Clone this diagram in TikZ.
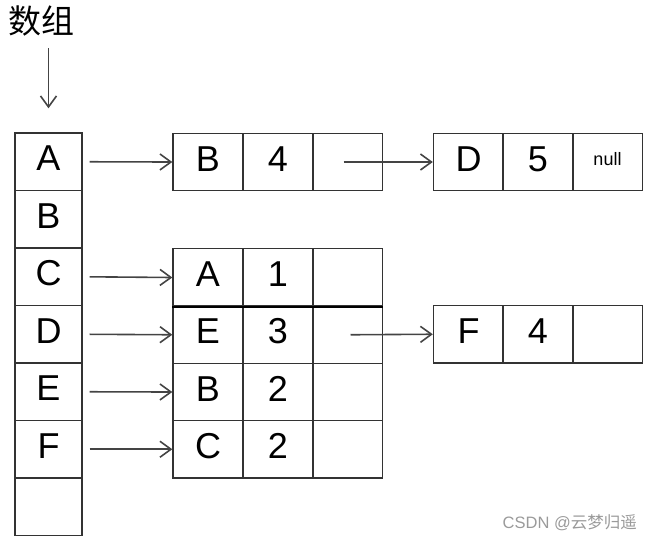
\documentclass[tikz,border=0pt]{standalone}
\usepackage{fontspec}
\setmainfont{Liberation Sans}
\newfontfamily\cjk{Noto Sans CJK SC}
\usetikzlibrary{arrows.meta}
\definecolor{linec}{HTML}{333333}
\definecolor{arrc}{HTML}{444444}
\definecolor{wm}{HTML}{9A9A9A}
\begin{document}
\begin{tikzpicture}[x=1pt,y=-1pt,
  cell/.style={draw=linec, line width=1.4pt, minimum width=70pt, minimum height=57.5pt, inner sep=0pt, text height=26pt, text depth=8pt, font=\fontsize{36}{40}\selectfont},
  acell/.style={cell, minimum width=67pt},
  ptr/.style={draw=arrc, line width=1.6pt, -{Straight Barb[length=11pt,width=16pt,line width=1.6pt]}}
]
\useasboundingbox (0,0) rectangle (651,542);
% label
\node[inner sep=0pt, font=\cjk\fontsize{33}{36}\selectfont] (lbl) at (42,21) {数组};
\coordinate (ls) at (48.5,48);
% array
\node[acell] (aA) at (48.5,161.75) {A};
\node[acell] (aB) at (48.5,219.25) {B};
\node[acell] (aC) at (48.5,276.75) {C};
\node[acell] (aD) at (48.5,334.25) {D};
\node[acell] (aE) at (48.5,391.75) {E};
\node[acell] (aF) at (48.5,449.25) {F};
\node[acell] (aG) at (48.5,506.75) {};
% list from A
\node[cell] (b1) at (208,162) {B};
\node[cell] (b2) at (278,162) {4};
\node[cell] (b3) at (347.5,162) {};
\node[cell] (d1) at (468.5,162) {D};
\node[cell] (d2) at (538,162) {5};
\node[cell, font=\fontsize{18}{20}\selectfont, text height=13pt, text depth=6pt] (d3) at (607.5,162) {null};
% table
\node[cell] (t11) at (208,277.5) {A};
\node[cell] (t12) at (278,277.5) {1};
\node[cell] (t13) at (347.5,277.5) {};
\node[cell] (t21) at (208,334.75) {E};
\node[cell] (t22) at (278,334.75) {3};
\node[cell] (t23) at (347.5,334.75) {};
\node[cell] (t31) at (208,392) {B};
\node[cell] (t32) at (278,392) {2};
\node[cell] (t33) at (347.5,392) {};
\node[cell] (t41) at (208,449.25) {C};
\node[cell] (t42) at (278,449.25) {2};
\node[cell] (t43) at (347.5,449.25) {};
\draw[draw=black, line width=2.4pt] (t11.south west) -- (t13.south east);
% F4
\node[cell] (f1) at (468.5,334.25) {F};
\node[cell] (f2) at (538,334.25) {4};
\node[cell] (f3) at (607.5,334.25) {};
% arrows
\draw[ptr, shorten >=24pt] (ls) -- (aA.north);
\draw[ptr, shorten <=7pt] (aA.east) -- (b1.west);
\draw[ptr, shorten <=7pt] (aC.east) -- (t11.west);
\draw[ptr, shorten <=7pt] (aD.east) -- (t21.west);
\draw[ptr, shorten <=7pt] (aE.east) -- (t31.west);
\draw[ptr, shorten <=7pt] (aF.east) -- (t41.west);
\draw[ptr] ([xshift=-4pt]b3.center) -- (d1.west);
\draw[ptr] ([xshift=3pt]t23.center) -- (f1.west);
% watermark
\node[inner sep=0pt, text=wm, font=\fontsize{16.5}{18}\selectfont, anchor=east] (wmk) at (637,523) {CSDN @{\cjk 云梦归遥}};
\end{tikzpicture}
\end{document}
